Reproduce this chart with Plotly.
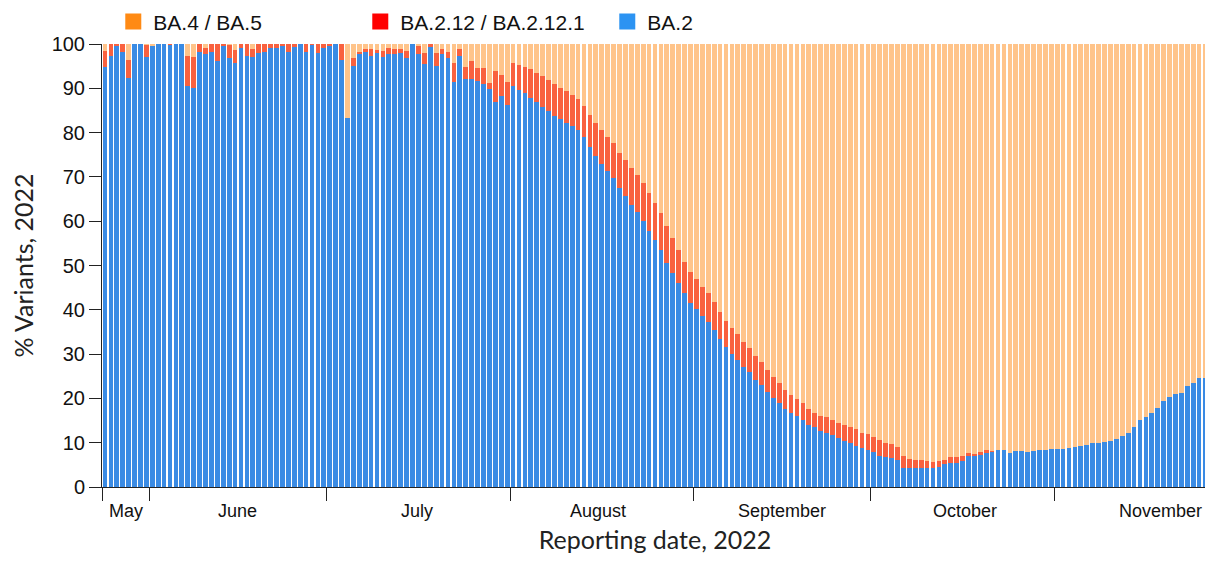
import plotly.graph_objects as go
import pandas as pd

# ---------------- data (percent of sequenced variants, daily, from 24 May 2022) ----------------
start_date = "2022-05-24"

ba2 = [
    94.9, 97.4, 99.5, 98.1, 92.4, 100.0, 100.0, 97.1, 99.7, 100.0,
    100.0, 99.8, 100.0, 100.0, 90.5, 90.1, 98.3, 97.7, 98.3, 96.2,
    99.5, 96.9, 95.6, 99.2, 97.4, 97.1, 97.9, 98.1, 99.0, 99.2,
    99.5, 98.3, 99.4, 100.0, 98.3, 99.8, 98.0, 99.2, 99.6, 100.0,
    96.4, 83.2, 95.1, 97.7, 98.4, 97.4, 97.9, 97.1, 97.7, 97.7,
    97.9, 96.9, 100.0, 97.7, 95.4, 99.4, 95.1, 97.7, 96.9, 91.5,
    97.4, 92.2, 92.2, 91.7, 91.0, 89.8, 87.0, 88.3, 86.2, 90.6,
    89.6, 88.9, 87.9, 86.8, 85.7, 84.9, 83.8, 83.1, 82.2, 81.5,
    80.6, 78.9, 76.8, 74.7, 72.9, 71.4, 69.7, 67.4, 65.7, 63.7,
    62.0, 60.1, 57.8, 55.8, 53.5, 50.6, 48.2, 46.0, 43.7, 41.5,
    40.1, 38.6, 37.3, 35.4, 33.3, 31.5, 30.0, 28.7, 27.2, 25.9,
    24.2, 23.0, 21.5, 20.0, 18.9, 17.5, 16.8, 16.0, 15.1, 14.1,
    13.6, 12.6, 12.3, 11.7, 11.1, 10.4, 10.0, 9.3, 8.7, 8.4,
    7.8, 7.0, 6.8, 6.5, 6.2, 4.4, 4.4, 4.4, 4.4, 4.4,
    4.4, 4.6, 5.1, 5.5, 5.5, 5.9, 7.0, 7.0, 7.2, 7.7,
    8.0, 8.4, 8.4, 7.7, 8.1, 8.2, 8.0, 8.2, 8.4, 8.4,
    8.5, 8.5, 8.5, 8.9, 9.1, 9.3, 9.5, 10.0, 10.0, 10.2,
    10.4, 10.8, 11.5, 12.3, 13.5, 15.1, 15.9, 16.8, 17.8, 19.4,
    20.4, 21.1, 21.3, 22.9, 23.4, 24.5, 24.7,
]

ba2_12 = [
    3.6, 2.6, 0.5, 1.9, 4.0, 0.0, 0.0, 2.7, 0.0, 0.0,
    0.0, 0.2, 0.0, 0.0, 6.8, 7.0, 1.7, 1.5, 1.7, 3.8,
    0.5, 2.9, 3.0, 0.8, 2.6, 1.8, 2.1, 1.9, 1.0, 0.8,
    0.5, 1.7, 0.6, 0.0, 1.7, 0.2, 2.0, 0.8, 0.4, 0.0,
    3.6, 0.0, 1.8, 0.5, 0.4, 1.4, 0.7, 1.4, 1.3, 1.1,
    0.9, 1.5, 0.0, 1.9, 2.6, 0.6, 2.9, 1.2, 1.2, 4.1,
    1.4, 2.5, 4.0, 2.8, 3.5, 1.5, 6.9, 4.7, 5.3, 5.2,
    5.7, 6.0, 6.4, 6.7, 7.1, 7.0, 7.1, 6.9, 7.2, 7.0,
    7.0, 7.1, 7.2, 7.5, 7.7, 7.7, 7.9, 8.1, 8.1, 8.4,
    8.4, 8.6, 8.6, 8.2, 8.3, 8.3, 8.1, 7.5, 7.2, 7.1,
    6.8, 6.6, 6.4, 6.3, 6.1, 6.0, 5.8, 5.8, 5.6, 5.4,
    5.4, 5.3, 4.8, 4.8, 4.5, 4.4, 4.0, 3.8, 3.8, 3.5,
    3.2, 3.5, 3.4, 3.4, 3.4, 3.6, 3.6, 3.7, 3.6, 3.6,
    3.6, 3.6, 3.2, 3.1, 2.9, 2.6, 1.9, 1.7, 1.7, 1.5,
    1.3, 1.3, 1.1, 1.2, 1.2, 1.1, 0.6, 0.4, 0.6, 0.7,
    0.2, 0.0, 0.0, 0.0, 0.0, 0.0, 0.0, 0.0, 0.0, 0.0,
    0.0, 0.0, 0.0, 0.0, 0.0, 0.0, 0.0, 0.0, 0.0, 0.0,
    0.0, 0.0, 0.0, 0.0, 0.0, 0.0, 0.0, 0.0, 0.0, 0.0,
    0.0, 0.0, 0.0, 0.0, 0.0, 0.0, 0.0,
]

ba4_ba5 = [
    1.5, 0.0, 0.0, 0.0, 3.6, 0.0, 0.0, 0.2, 0.3, 0.0,
    0.0, 0.0, 0.0, 0.0, 2.7, 2.9, 0.0, 0.8, 0.0, 0.0,
    0.0, 0.2, 1.4, 0.0, 0.0, 1.1, 0.0, 0.0, 0.0, 0.0,
    0.0, 0.0, 0.0, 0.0, 0.0, 0.0, 0.0, 0.0, 0.0, 0.0,
    0.0, 16.8, 3.1, 1.8, 1.2, 1.2, 1.4, 1.5, 1.0, 1.2,
    1.2, 1.6, 0.0, 0.4, 2.0, 0.0, 2.0, 1.1, 1.9, 4.4,
    1.2, 5.3, 3.8, 5.5, 5.5, 8.7, 6.1, 7.0, 8.5, 4.2,
    4.7, 5.1, 5.7, 6.5, 7.2, 8.1, 9.1, 10.0, 10.6, 11.5,
    12.4, 14.0, 16.0, 17.8, 19.4, 20.9, 22.4, 24.5, 26.2, 27.9,
    29.6, 31.3, 33.6, 36.0, 38.2, 41.1, 43.7, 46.5, 49.1, 51.4,
    53.1, 54.8, 56.3, 58.3, 60.6, 62.5, 64.2, 65.5, 67.2, 68.7,
    70.4, 71.7, 73.7, 75.2, 76.6, 78.1, 79.2, 80.2, 81.1, 82.4,
    83.2, 83.9, 84.3, 84.9, 85.5, 86.0, 86.4, 87.0, 87.7, 88.0,
    88.6, 89.4, 90.0, 90.4, 90.9, 93.0, 93.7, 93.9, 93.9, 94.1,
    94.3, 94.1, 93.8, 93.3, 93.3, 93.0, 92.4, 92.6, 92.2, 91.6,
    91.8, 91.6, 91.6, 92.3, 91.9, 91.8, 92.0, 91.8, 91.6, 91.6,
    91.5, 91.5, 91.5, 91.1, 90.9, 90.7, 90.5, 90.0, 90.0, 89.8,
    89.6, 89.2, 88.5, 87.7, 86.5, 84.9, 84.1, 83.2, 82.2, 80.6,
    79.6, 78.9, 78.7, 77.1, 76.6, 75.5, 75.3,
]

series_names = ["BA.4 / BA.5", "BA.2.12 / BA.2.12.1", "BA.2"]

month_labels = ["May", "June", "July", "August", "September", "October", "November"]
month_label_dates = ["2022-05-27 14:00", "2022-06-15 08:00", "2022-07-15 18:00",
                     "2022-08-15 09:00", "2022-09-15 12:00", "2022-10-16 10:00",
                     "2022-11-18 10:00"]
month_boundaries = ["2022-05-23 12:10", "2022-05-31 12:00", "2022-06-30 12:00",
                    "2022-07-31 12:00", "2022-08-31 12:00", "2022-09-30 12:00",
                    "2022-10-31 12:00", "2022-11-26 11:50"]
x_range = ["2022-05-23 12:00", "2022-11-26 12:00"]
y_ticks = [0, 10, 20, 30, 40, 50, 60, 70, 80, 90, 100]

# ---------------- styling ----------------
bar_colors = {"BA.2": "#3A8BE4", "BA.2.12 / BA.2.12.1": "#F9613F", "BA.4 / BA.5": "#FFC48A"}
legend_colors = {"BA.4 / BA.5": "#FF8A14", "BA.2.12 / BA.2.12.1": "#FF0000", "BA.2": "#2C93F2"}
sans = "Liberation Sans, Arial, sans-serif"
month_font = dict(family=sans, size=18, color="#111111")
ytick_font = dict(family=sans, size=20, color="#111111")
title_font = dict(family="Lato, Carlito, sans-serif", size=25, color="#222222")

dates = pd.date_range(start_date, periods=len(ba2), freq="D")

fig = go.Figure()
values = {"BA.2": ba2, "BA.2.12 / BA.2.12.1": ba2_12, "BA.4 / BA.5": ba4_ba5}
for name in ["BA.2", "BA.2.12 / BA.2.12.1", "BA.4 / BA.5"]:
    fig.add_trace(go.Bar(x=dates, y=values[name], name=name,
                         marker=dict(color=bar_colors[name], line=dict(width=0)),
                         showlegend=False))

# legend entries (saturated squares, as in the original)
for name in series_names:
    fig.add_trace(go.Scatter(x=[None], y=[None], mode="markers", name=name,
                             marker=dict(symbol="square", size=16, color=legend_colors[name]),
                             showlegend=True))

for lab, d in zip(month_labels, month_label_dates):
    fig.add_annotation(x=d, y=0, xref="x", yref="paper", text=lab, showarrow=False,
                       xanchor="center", yanchor="top", yshift=-12, font=month_font)

# the page body adds an 8px offset, so the figure is 8px smaller on the left/top
fig.update_layout(
    width=1205, height=546,
    margin=dict(l=94, r=5, t=36, b=67, autoexpand=False),
    barmode="stack", bargap=0.2,
    plot_bgcolor="white", paper_bgcolor="white",
    legend=dict(orientation="h", x=0.0102, xanchor="left", y=1.096, yanchor="top",
                traceorder="normal", entrywidth=202, entrywidthmode="pixels",
                font=dict(family=sans, size=21, color="#111111"),
                bgcolor="rgba(0,0,0,0)"),
    xaxis=dict(type="date", range=x_range, tickmode="array", tickvals=month_boundaries,
               ticktext=[""] * len(month_boundaries), ticks="outside", ticklen=13,
               tickcolor="#222222", showline=True, linecolor="#222222", linewidth=1,
               showgrid=False, zeroline=False,
               title=dict(text="Reporting date, 2022", font=title_font, standoff=30)),
    yaxis=dict(range=[0, 100], tickmode="array", tickvals=y_ticks, ticks="outside",
               ticklen=12, tickcolor="#222222", showline=True, linecolor="#222222",
               linewidth=1, showgrid=False, zeroline=False, tickfont=ytick_font,
               title=dict(text="% Variants, 2022", font=title_font, standoff=10)),
)

fig.write_html("out.html")
